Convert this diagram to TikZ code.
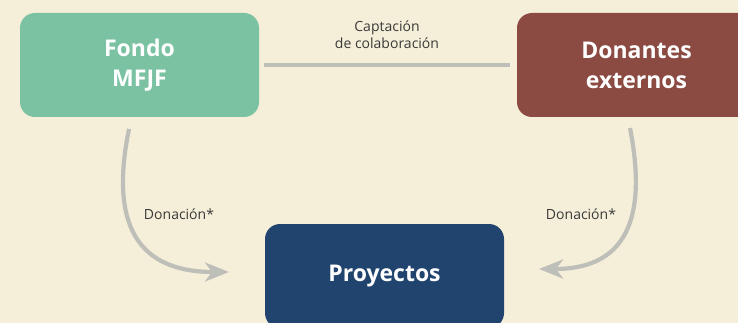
\documentclass[tikz,border=0pt]{standalone}
\usepackage{fontspec}
\setmainfont{Open Sans}
\usetikzlibrary{arrows.meta}
\definecolor{bgc}{HTML}{F5EED8}
\definecolor{fondoc}{HTML}{7BC2A3}
\definecolor{donc}{HTML}{8B4A42}
\definecolor{proyc}{HTML}{21446F}
\definecolor{linec}{HTML}{BFBFBA}
\definecolor{txtc}{HTML}{3A3A3A}
\tikzset{
  box/.style={rounded corners=15pt, minimum width=239pt, minimum height=104pt, text=white, align=center, font=\fontsize{23}{30}\selectfont\bfseries, inner sep=0pt},
  conn/.style={draw=linec, line width=4.2pt},
  arr/.style={conn, -{Stealth[length=24pt,width=19pt,inset=7pt]}},
  lbl/.style={text=txtc, font=\fontsize{14}{17}\selectfont, align=center}
}
\begin{document}
\begin{tikzpicture}[x=1pt,y=-1pt]
\fill[bgc] (0,0) rectangle (738,323);
\useasboundingbox (0,0) rectangle (738,323);
\node[box, fill=fondoc] (fondo) at (139.5,65) {Fondo\\MFJF};
\node[box, fill=donc] (don) at (636.5,65) {Donantes\\externos};
\node[box, fill=proyc] (proy) at (384.5,276) {Proyectos};
\draw[conn, shorten <=5pt, shorten >=7pt] (fondo.east) -- (don.west);
\node[lbl] (capt) at (387,34.5) {Captación\\de colaboración};
\coordinate (a1) at (129,129);
\coordinate (a2) at (229,272);
\coordinate (b1) at (630,128);
\coordinate (b2) at (539,269);
\draw[arr] (a1) .. controls (112,212) and (128,272) .. (a2);
\draw[arr] (b1) .. controls (646,210) and (632,269) .. (b2);
\node[lbl] (d1) at (179,214) {Donación*};
\node[lbl] (d2) at (581,214) {Donación*};
\end{tikzpicture}
\end{document}
